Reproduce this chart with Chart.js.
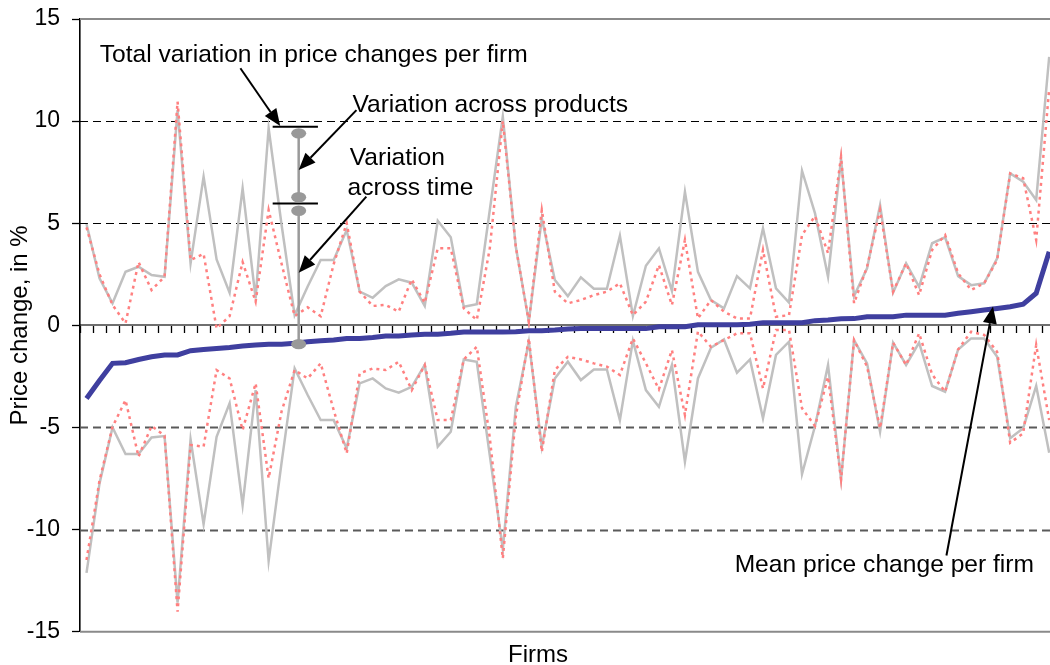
<!DOCTYPE html>
<html>
<head>
<meta charset="utf-8">
<script src="https://cdn.jsdelivr.net/npm/chart.js@4/dist/chart.umd.min.js"></script>
<style>
  html, body { margin: 0; padding: 0; overflow: hidden; background: #ffffff; }
  canvas { display: block; }
</style>
</head>
<body>
<canvas id="c" width="1060" height="665"></canvas>
<script>
// Firms, ordered by their mean price change
const firmLabels = [
  1, 2, 3, 4, 5, 6, 7, 8, 9, 10, 11, 12, 13, 14, 15, 16, 17, 18, 19, 20,
  21, 22, 23, 24, 25, 26, 27, 28, 29, 30, 31, 32, 33, 34, 35, 36, 37, 38, 39, 40,
  41, 42, 43, 44, 45, 46, 47, 48, 49, 50, 51, 52, 53, 54, 55, 56, 57, 58, 59, 60,
  61, 62, 63, 64, 65, 66, 67, 68, 69, 70, 71, 72, 73, 74, 75
];

// Mean price change per firm (%)
const meanChange = [
  -3.58, -2.70, -1.86, -1.83, -1.67, -1.54, -1.45, -1.45, -1.24, -1.18,
  -1.13, -1.08, -1.01, -0.96, -0.92, -0.92, -0.88, -0.80, -0.75, -0.72,
  -0.64, -0.64, -0.59, -0.52, -0.52, -0.47, -0.43, -0.43, -0.39, -0.33,
  -0.33, -0.33, -0.33, -0.31, -0.26, -0.26, -0.23, -0.18, -0.16, -0.16,
  -0.16, -0.16, -0.16, -0.16, -0.07, -0.07, -0.07, 0.03, 0.03, 0.03,
  0.03, 0.05, 0.13, 0.13, 0.13, 0.13, 0.23, 0.26, 0.32, 0.33,
  0.42, 0.42, 0.42, 0.50, 0.50, 0.50, 0.50, 0.59, 0.67, 0.75,
  0.83, 0.91, 1.04, 1.57, 3.60
];

// Total variation: upper and lower bound per firm (%)
const totalHigh = [
  4.96, 2.30, 1.08, 2.62, 2.87, 2.46, 2.38, 10.54, 3.04, 7.28,
  3.23, 1.60, 6.71, 1.32, 9.65, 4.90, 0.50, 1.90, 3.20, 3.20,
  4.67, 1.65, 1.35, 1.92, 2.25, 2.09, 0.95, 5.12, 4.31, 0.91,
  1.04, 5.65, 10.22, 3.85, 0.18, 5.24, 2.22, 1.43, 2.35, 1.79,
  1.79, 4.39, 0.46, 2.92, 3.77, 1.69, 6.54, 2.62, 1.24, 0.83,
  2.41, 1.81, 4.75, 1.81, 1.11, 7.57, 5.48, 2.38, 8.13, 1.43,
  2.79, 5.89, 1.60, 3.04, 1.89, 4.02, 4.31, 2.41, 1.97, 2.06,
  3.28, 7.44, 7.03, 6.14, 13.15
];
const totalLow = [
  -12.12, -7.74, -5.00, -6.30, -6.30, -5.49, -5.42, -13.58, -5.58, -9.73,
  -5.46, -3.82, -8.80, -3.17, -11.53, -6.70, -2.11, -3.41, -4.64, -4.64,
  -6.02, -2.84, -2.60, -3.09, -3.30, -3.01, -1.94, -5.94, -5.21, -1.67,
  -1.78, -6.37, -10.97, -3.99, -0.80, -5.94, -2.60, -1.78, -2.68, -2.16,
  -2.16, -4.64, -0.75, -3.17, -3.99, -1.94, -6.68, -2.60, -1.10, -0.69,
  -2.32, -1.67, -4.55, -1.45, -0.80, -7.28, -4.93, -1.94, -7.54, -0.72,
  -1.86, -5.21, -0.85, -1.94, -0.85, -2.97, -3.25, -1.18, -0.64, -0.64,
  -1.54, -5.53, -5.04, -2.97, -6.24
];

// Variation across time: upper and lower bound per firm (%)
const timeHigh = [
  4.80, 2.50, 1.00, 0.10, 3.10, 1.73, 2.38, 10.95, 3.20, 3.50,
  -0.15, 0.45, 3.10, 1.16, 5.65, 3.00, 0.45, 0.88, 0.45, 3.00,
  5.00, 1.65, 0.95, 1.00, 0.67, 2.25, 1.10, 3.77, 3.77, 0.83,
  0.26, 3.77, 10.00, 3.85, 0.18, 5.65, 1.65, 1.08, 1.24, 1.48,
  1.65, 2.06, 0.50, 1.16, 2.95, 0.99, 4.18, 0.34, 1.24, 0.67,
  0.34, 0.34, 3.69, 0.42, 0.50, 4.42, 5.35, 3.53, 8.26, 1.08,
  2.87, 5.65, 1.65, 3.04, 1.48, 3.69, 4.42, 2.55, 1.73, 2.06,
  3.20, 7.44, 7.20, 4.18, 11.60
];
const timeLow = [
  -11.49, -7.60, -4.97, -3.66, -6.43, -4.93, -5.40, -14.02, -5.86, -5.94,
  -2.19, -2.60, -5.13, -2.84, -7.49, -4.20, -2.19, -2.60, -1.86, -4.15,
  -6.27, -2.35, -2.11, -2.19, -1.78, -3.17, -1.94, -4.64, -4.64, -1.67,
  -1.05, -5.50, -11.41, -4.47, -0.64, -6.19, -2.19, -1.54, -1.67, -1.86,
  -2.02, -2.43, -0.64, -1.86, -3.13, -1.21, -4.39, -0.30, -1.05, -0.72,
  -0.39, -0.39, -3.09, -0.23, -0.23, -4.06, -4.93, -2.52, -7.54, -0.72,
  -2.02, -5.04, -0.85, -1.94, -0.39, -2.40, -3.25, -1.18, -0.31, -0.47,
  -1.30, -5.75, -5.29, -0.96, -4.64
];

// Value axis
const yTickValues = [-15, -10, -5, 0, 5, 10, 15];
const dashedLevels = [-10, -5, 5, 10];

const FONT = "'Liberation Sans', Arial, Helvetica, sans-serif";

// Explanatory callouts, placed in axis units (firm index, %)
const rangeMarker = { x: 16.31, from: 14.31, to: 17.79, caps: [9.73, 5.97], dots: [9.40, 6.27, 5.61, -0.92] };
const calloutArrows = [
  { from: [11.83, 12.59], to: [14.89, 9.76] },
  { from: [20.75, 10.54], to: [16.31, 7.61] },
  { from: [21.51, 6.30], to: [16.31, 2.58] },
  { from: [66.10, -11.27], to: [69.68, 0.92] }
];
const calloutTexts = [
  { text: 'Total variation in price changes per firm', at: [1.02, 12.91] },
  { text: 'Variation across products', at: [20.44, 10.46] },
  { text: 'Variation', at: [20.23, 7.85] },
  { text: 'across time', at: [20.07, 6.36] },
  { text: 'Mean price change per firm', at: [49.82, -12.07] }
];

function toPx(chart, xv, yv) {
  return [chart.scales.x.getPixelForValue(xv), chart.scales.y.getPixelForValue(yv)];
}

function drawArrow(ctx, x1, y1, x2, y2) {
  const ang = Math.atan2(y2 - y1, x2 - x1);
  const headLen = 17, headHalf = 7;
  const bx = x2 - headLen * Math.cos(ang), by = y2 - headLen * Math.sin(ang);
  ctx.beginPath();
  ctx.moveTo(x1, y1);
  ctx.lineTo(bx, by);
  ctx.lineWidth = 2;
  ctx.strokeStyle = '#000';
  ctx.stroke();
  ctx.beginPath();
  ctx.moveTo(x2, y2);
  ctx.lineTo(bx + headHalf * Math.sin(ang), by - headHalf * Math.cos(ang));
  ctx.lineTo(bx - headHalf * Math.sin(ang), by + headHalf * Math.cos(ang));
  ctx.closePath();
  ctx.fillStyle = '#000';
  ctx.fill();
}

const decorations = {
  id: 'decorations',
  beforeDatasetsDraw(chart) {
    const { ctx, chartArea: a, scales: { y } } = chart;
    ctx.save();
    // dashed reference lines
    dashedLevels.forEach(v => {
      const py = Math.round(y.getPixelForValue(v)) + 0.5;
      ctx.beginPath();
      ctx.setLineDash([8, 5]);
      ctx.lineWidth = v > 0 ? 1.2 : 1.8;
      ctx.strokeStyle = v > 0 ? '#000' : '#5a5a5a';
      ctx.moveTo(a.left, py);
      ctx.lineTo(a.right, py);
      ctx.stroke();
    });
    ctx.setLineDash([]);
    // plot frame, top and bottom
    ctx.strokeStyle = '#8a8a8a';
    ctx.lineWidth = 2;
    ctx.beginPath();
    ctx.moveTo(a.left, a.top);
    ctx.lineTo(a.right, a.top);
    ctx.moveTo(a.left, a.bottom);
    ctx.lineTo(a.right, a.bottom);
    ctx.stroke();
    ctx.restore();
  },
  afterDatasetsDraw(chart) {
    const { ctx, chartArea: a } = chart;
    ctx.save();

    // range marker
    const [cx] = toPx(chart, rangeMarker.x, 0);
    const dotPx = rangeMarker.dots.map(v => toPx(chart, rangeMarker.x, v)[1]);
    ctx.strokeStyle = '#9a9a9a';
    ctx.lineWidth = 2.5;
    ctx.beginPath();
    ctx.moveTo(cx, dotPx[0]);
    ctx.lineTo(cx, dotPx[1]);
    ctx.moveTo(cx, dotPx[2]);
    ctx.lineTo(cx, dotPx[3]);
    ctx.stroke();
    const [lx] = toPx(chart, rangeMarker.from, 0);
    const [rx] = toPx(chart, rangeMarker.to, 0);
    ctx.strokeStyle = '#000';
    ctx.lineWidth = 2;
    rangeMarker.caps.forEach(v => {
      const py = toPx(chart, 0, v)[1];
      ctx.beginPath();
      ctx.moveTo(lx, py);
      ctx.lineTo(rx, py);
      ctx.stroke();
    });
    ctx.fillStyle = '#999999';
    dotPx.forEach(py => {
      ctx.beginPath();
      ctx.ellipse(cx, py, 7.5, 5.2, 0, 0, Math.PI * 2);
      ctx.fill();
    });

    // arrows
    calloutArrows.forEach(ar => {
      const [x1, y1] = toPx(chart, ar.from[0], ar.from[1]);
      const [x2, y2] = toPx(chart, ar.to[0], ar.to[1]);
      drawArrow(ctx, x1, y1, x2, y2);
    });

    // callout labels
    ctx.fillStyle = '#000';
    ctx.font = '24.6px ' + FONT;
    ctx.textAlign = 'left';
    ctx.textBaseline = 'alphabetic';
    calloutTexts.forEach(t => {
      const [x, y] = toPx(chart, t.at[0], t.at[1]);
      ctx.fillText(t.text, x, y);
    });

    // axis titles
    ctx.font = '24px ' + FONT;
    ctx.textAlign = 'center';
    ctx.fillText('Firms', 538, 662);
    ctx.translate(27, (a.top + a.bottom) / 2);
    ctx.rotate(-Math.PI / 2);
    ctx.fillText('Price change, in %', 0, 0);
    ctx.restore();
  }
};

new Chart(document.getElementById('c'), {
  type: 'line',
  data: {
    labels: firmLabels,
    datasets: [
      { label: 'Mean price change per firm', data: meanChange, borderColor: '#3f3f9f', borderWidth: 5, order: 0 },
      { label: 'Variation across time (high)', data: timeHigh, borderColor: '#ff8080', borderWidth: 2.5, borderDash: [3, 4], order: 1 },
      { label: 'Variation across time (low)', data: timeLow, borderColor: '#ff8080', borderWidth: 2.5, borderDash: [3, 4], order: 1 },
      { label: 'Total variation (high)', data: totalHigh, borderColor: '#c0c0c0', borderWidth: 2.5, order: 2 },
      { label: 'Total variation (low)', data: totalLow, borderColor: '#c0c0c0', borderWidth: 2.5, order: 2 }
    ]
  },
  options: {
    responsive: false,
    animation: false,
    devicePixelRatio: 1,
    layout: { padding: { top: 19, right: 4.3, bottom: 33.3, left: 0 } },
    elements: {
      point: { radius: 0, hoverRadius: 0 },
      line: { tension: 0, fill: false, borderCapStyle: 'butt', borderJoinStyle: 'miter' }
    },
    plugins: { legend: { display: false }, tooltip: { enabled: false } },
    scales: {
      x: {
        type: 'category',
        position: { y: 0 },
        offset: true,
        ticks: { display: false },
        grid: { offset: true, drawOnChartArea: false, drawTicks: true, tickLength: 7, tickColor: '#000', tickWidth: 1.3 },
        border: { display: true, color: '#6f6f6f', width: 2 }
      },
      y: {
        min: -15,
        max: 15,
        afterBuildTicks(scale) { scale.ticks = yTickValues.map(v => ({ value: v })); },
        afterFit(scale) {
          scale.width = 80;
          scale.paddingTop = 0;
          scale.paddingBottom = 0;
        },
        ticks: { color: '#000', font: { family: FONT, size: 23 }, padding: 12 },
        grid: { drawOnChartArea: false, drawTicks: true, tickLength: 8, tickColor: '#000', tickWidth: 1.3 },
        border: { display: true, color: '#000', width: 1.6 }
      }
    }
  },
  plugins: [decorations]
});
</script>
</body>
</html>
